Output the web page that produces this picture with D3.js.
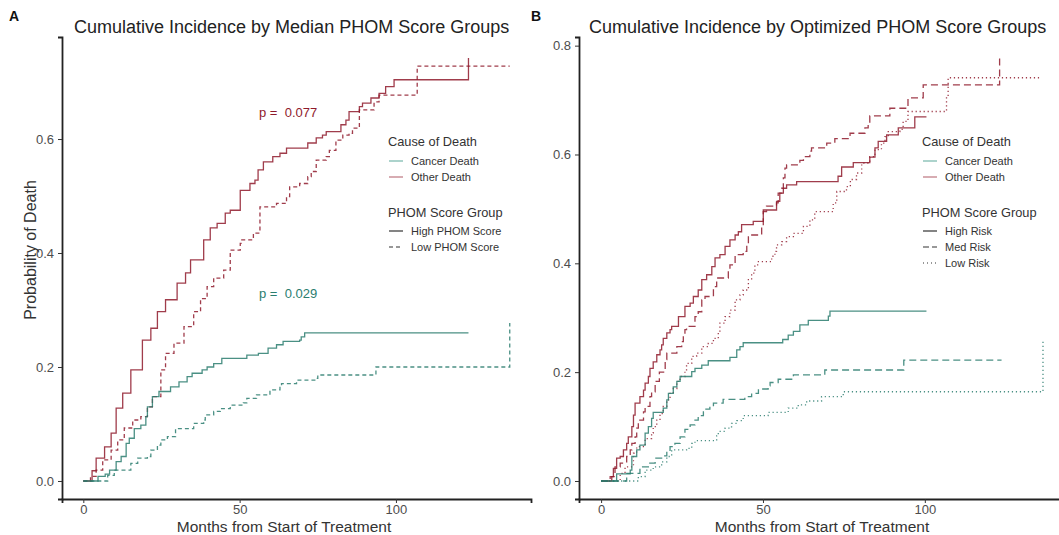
<!DOCTYPE html>
<html><head><meta charset="utf-8">
<script src="https://cdn.jsdelivr.net/npm/d3@7"></script>
<style>body{margin:0;background:#fff}svg{display:block;font-family:"Liberation Sans",Arial,sans-serif}</style>
</head><body>
<svg id="c" width="1059" height="535"></svg>
<script>
// ---------- data (months, cumulative incidence) ----------
const aHighOther=[[0,0],[2.8,0.018],[4.1,0.04],[6.8,0.06],[8.9,0.084],[10.5,0.128],[12.6,0.154],[15.2,0.195],[18.9,0.247],[21.6,0.268],[23.7,0.297],[26.3,0.318],[30,0.347],[32.7,0.365],[34.3,0.388],[38.5,0.423],[40.6,0.444],[42.8,0.452],[45.4,0.47],[47,0.475],[50.2,0.51],[53.3,0.522],[54.9,0.528],[55.9,0.546],[57.6,0.56],[60.6,0.569],[62.9,0.575],[65,0.584],[71.8,0.593],[74.5,0.602],[76.5,0.607],[77.7,0.613],[82.4,0.625],[84,0.633],[85,0.648],[88.3,0.657],[89.3,0.663],[92,0.672],[94.6,0.68],[96.7,0.692],[99.4,0.704],[123.2,0.742]];
const aLowOther=[[0,0],[2.3,0.008],[4.1,0.019],[6.2,0.037],[8.9,0.054],[11,0.072],[13.1,0.093],[15.8,0.107],[18.4,0.113],[20.5,0.13],[22.1,0.148],[24.8,0.195],[26.3,0.224],[29,0.242],[32.2,0.271],[35.3,0.297],[37.5,0.32],[39.6,0.341],[41.7,0.356],[44.9,0.37],[47,0.405],[50.2,0.417],[50.7,0.423],[54.4,0.435],[56.5,0.481],[61.8,0.487],[65,0.499],[66,0.516],[69.2,0.522],[71.8,0.534],[72.9,0.543],[74.5,0.563],[77.7,0.569],[78.7,0.58],[80.8,0.598],[83,0.607],[85,0.61],[86.1,0.619],[88.3,0.651],[93,0.665],[94.6,0.677],[106.8,0.728],[136.4,0.728]];
const aHighCancer=[[0,0],[4.7,0.008],[7,0.012],[8.4,0.019],[10.5,0.034],[12.1,0.043],[13.7,0.066],[14.7,0.075],[16.3,0.092],[18.4,0.098],[20,0.113],[20.5,0.13],[22.1,0.148],[24.2,0.157],[27.9,0.165],[30.6,0.174],[33.2,0.183],[34.8,0.189],[38,0.195],[39.6,0.2],[41.7,0.206],[44.3,0.215],[52.3,0.221],[56,0.224],[59.1,0.233],[61.8,0.239],[63.9,0.245],[69.2,0.247],[69.7,0.253],[70.8,0.26],[123.2,0.26]];
const aLowCancer=[[0,0],[7.8,0.01],[9.9,0.019],[15.2,0.031],[17.4,0.04],[20.5,0.043],[21.6,0.054],[23.7,0.063],[24.8,0.072],[26.9,0.078],[29.5,0.092],[35.3,0.101],[38.5,0.107],[39,0.116],[41.7,0.122],[43.8,0.127],[47,0.133],[51.2,0.137],[52.3,0.145],[55.4,0.151],[59.7,0.16],[62.9,0.168],[63.4,0.171],[68.2,0.177],[74.5,0.18],[75,0.186],[93.6,0.2],[136.4,0.277]];

const bHighOther=[[0,0],[3.3,0.008],[3.8,0.023],[4.8,0.042],[5.9,0.045],[6.9,0.057],[7.9,0.069],[8.4,0.081],[9.5,0.1],[10,0.121],[10.5,0.143],[12,0.155],[13.1,0.167],[13.6,0.18],[14.6,0.192],[15.1,0.207],[16.1,0.219],[17.2,0.232],[18.2,0.241],[18.7,0.25],[19.2,0.262],[20.3,0.272],[21.3,0.278],[21.8,0.284],[23.9,0.302],[25.9,0.321],[27.5,0.327],[28.5,0.339],[30,0.351],[31.1,0.37],[32.6,0.379],[34.2,0.394],[35.2,0.41],[36.7,0.416],[38.3,0.431],[39.8,0.443],[41.4,0.452],[42.4,0.458],[43.4,0.471],[47,0.477],[50.1,0.498],[54.2,0.514],[55.2,0.529],[56.3,0.538],[57.3,0.544],[60.4,0.55],[73.2,0.56],[74.3,0.577],[77.9,0.585],[83,0.595],[84.6,0.612],[85.6,0.624],[88.2,0.636],[91.8,0.649],[96.9,0.669],[100.5,0.669]];
const bMedOther=[[0,0],[2.8,0.008],[4.3,0.026],[5.9,0.033],[7.9,0.045],[9,0.057],[9.5,0.069],[10.5,0.081],[11,0.097],[11.5,0.112],[13.1,0.127],[13.6,0.137],[15.1,0.155],[15.6,0.164],[16.7,0.183],[18,0.2],[19.8,0.223],[20.3,0.235],[23.4,0.247],[24.9,0.256],[25.4,0.268],[25.9,0.278],[26.4,0.284],[29,0.302],[30,0.311],[31.1,0.333],[32.1,0.339],[34.7,0.357],[35.7,0.373],[39.3,0.388],[39.8,0.397],[41.4,0.416],[43.9,0.422],[45,0.434],[45.5,0.452],[49.6,0.468],[50.1,0.495],[51.1,0.505],[54.2,0.511],[54.7,0.529],[55.8,0.538],[56.3,0.557],[56.8,0.575],[57.3,0.581],[61.4,0.589],[62.5,0.596],[64.5,0.606],[65,0.612],[69.7,0.621],[72.2,0.629],[76.9,0.639],[81.5,0.649],[82.5,0.658],[83,0.671],[89.2,0.685],[94.8,0.704],[99.5,0.728],[123.1,0.777]];
const bLowOther=[[0,0],[5.9,0.014],[7.4,0.026],[10,0.051],[11,0.063],[13.6,0.078],[15.6,0.088],[16.1,0.1],[17.2,0.112],[18.2,0.124],[19.2,0.137],[20.3,0.149],[21.3,0.161],[22.3,0.17],[23.4,0.183],[24.4,0.192],[25.9,0.201],[26.4,0.216],[28,0.229],[29.5,0.235],[31.1,0.247],[33.1,0.253],[34.7,0.262],[36.2,0.272],[36.7,0.29],[38.3,0.302],[39.8,0.314],[41.4,0.333],[42.9,0.342],[43.9,0.351],[45.5,0.37],[46.5,0.382],[47.5,0.397],[48.6,0.403],[52.7,0.413],[53.7,0.422],[54.2,0.434],[55.8,0.44],[57.3,0.449],[59.4,0.455],[62.5,0.468],[64.5,0.48],[66,0.495],[71.7,0.511],[72.8,0.532],[75.8,0.541],[77,0.554],[78.9,0.566],[80.5,0.584],[83,0.596],[84.6,0.609],[86.6,0.621],[87.7,0.633],[88.7,0.642],[92.3,0.646],[93.3,0.661],[94.8,0.679],[106.7,0.707],[107.2,0.741],[135.5,0.741]];
const bHighCancer=[[0,0],[4.8,0.013],[9,0.02],[9.5,0.045],[11,0.057],[12,0.066],[13.6,0.088],[14.6,0.1],[15.6,0.115],[16.1,0.126],[19.2,0.134],[20.3,0.149],[20.8,0.161],[22.3,0.173],[23.4,0.183],[24.4,0.192],[28,0.201],[29,0.207],[31.1,0.213],[33.1,0.221],[39.8,0.227],[41.9,0.241],[42.9,0.247],[43.9,0.254],[56.1,0.26],[57.8,0.268],[59.4,0.275],[61.4,0.287],[64,0.295],[70.2,0.303],[70.7,0.312],[100.5,0.312]];
const bMedCancer=[[0,0],[7.9,0.014],[12,0.026],[14.6,0.033],[16.7,0.042],[18.7,0.046],[20.3,0.054],[21.3,0.063],[22.8,0.069],[24.4,0.081],[25.9,0.095],[27.5,0.103],[29,0.112],[30,0.12],[31.6,0.132],[33.6,0.137],[34.7,0.143],[37.7,0.15],[44.4,0.155],[46.5,0.161],[48.6,0.169],[51.6,0.175],[52.2,0.181],[54.7,0.187],[59.4,0.195],[69.1,0.204],[93.5,0.222],[123.7,0.222]];
const bLowCancer=[[0,0],[11.5,0.008],[13.6,0.02],[16.1,0.026],[18.7,0.035],[20.3,0.045],[21.8,0.057],[26.4,0.06],[28,0.069],[29,0.074],[35.7,0.083],[36.2,0.091],[38.3,0.097],[40.3,0.106],[41.9,0.111],[43.9,0.12],[51.6,0.126],[57.8,0.134],[60.9,0.14],[63.5,0.147],[68.1,0.155],[74.8,0.164],[136.5,0.259]];

const xTicks=[0,50,100];
const yTicksA=[0,0.2,0.4,0.6];
const yTicksB=[0,0.2,0.4,0.6,0.8];
const causeLabels=["Cancer Death","Other Death"];
const groupLabelsA=["High PHOM Score","Low PHOM Score"];
const groupLabelsB=["High Risk","Med Risk","Low Risk"];
const pValues=["0.077","0.029"];

// ---------- styles ----------
const RED="#8f1a2c", TEAL="#2a7d6f";
const RED_L="#c27f88", TEAL_L="#7fbcb1";
const svg=d3.select("#c");

function panel(o){
  const x=d3.scaleLinear().domain(o.xd).range(o.xr);
  const y=d3.scaleLinear().domain(o.yd).range([499,37]);
  const g=svg.append("g");
  const xa=g.append("g").attr("transform","translate(0,499)")
    .call(d3.axisBottom(x).tickValues(xTicks).tickSize(4).tickPadding(2));
  const ya=g.append("g").attr("transform",`translate(${o.xr[0]},0)`)
    .call(d3.axisLeft(y).tickValues(o.yTicks).tickSize(4).tickPadding(4).tickFormat(d3.format(".1f")));
  [xa,ya].forEach(a=>{
    a.select(".domain").attr("stroke","#222").attr("stroke-width",1.8);
    a.selectAll(".tick line").attr("stroke","#333").attr("stroke-width",1);
    a.selectAll(".tick text").attr("fill","#4d4d4d").style("font-size","13px").style("font-family","Liberation Sans, Arial, sans-serif");
  });
  const line=d3.line().x(d=>x(d[0])).y(d=>y(d[1])).curve(d3.curveStepAfter);
  o.series.forEach(s=>{
    g.append("path").datum(s.data).attr("d",line).attr("fill","none")
      .attr("stroke",s.color).attr("stroke-width",1.3).attr("stroke-opacity",0.85)
      .attr("stroke-dasharray",s.dash||null);
  });
  g.append("text").attr("x",o.titleX).attr("y",33).attr("fill","#222")
    .style("font-size","18px").text(o.title);
  g.append("text").attr("x",o.tagX).attr("y",21).attr("fill","#111")
    .style("font-size","14px").style("font-weight","bold").text(o.tag);
  g.append("text").attr("x",o.xTitleX).attr("y",532).attr("text-anchor","middle")
    .attr("fill","#333").style("font-size","15.5px").text("Months from Start of Treatment");
  const lx=o.legX;
  const L=g.append("g");
  L.append("text").attr("x",lx).attr("y",146).attr("fill","#333").style("font-size","12.8px").text("Cause of Death");
  causeLabels.forEach((t,i)=>{
    const yy=161+i*16;
    L.append("line").attr("x1",lx+1).attr("x2",lx+15).attr("y1",yy).attr("y2",yy)
      .attr("stroke",i===0?TEAL_L:RED_L).attr("stroke-width",1.3);
    L.append("text").attr("x",lx+23).attr("y",yy+4).attr("fill","#333").style("font-size","11px").text(t);
  });
  L.append("text").attr("x",lx).attr("y",217).attr("fill","#333").style("font-size","12.8px").text("PHOM Score Group");
  o.groups.forEach((t,i)=>{
    const yy=231+i*16;
    L.append("line").attr("x1",lx+1).attr("x2",lx+15).attr("y1",yy).attr("y2",yy)
      .attr("stroke","#333").attr("stroke-width",1.2).attr("stroke-dasharray",o.dashes[i]||null);
    L.append("text").attr("x",lx+23).attr("y",yy+4).attr("fill","#333").style("font-size","11px").text(t);
  });
  return {g,x,y};
}

const A=panel({xd:[-6.82,143.2],xr:[62,531],yd:[-0.0316,0.779],yTicks:yTicksA,
  title:"Cumulative Incidence by Median PHOM Score Groups",titleX:74,tag:"A",tagX:9,legX:388,xTitleX:284,
  groups:groupLabelsA,dashes:[null,"4,3"],
  series:[{data:aHighOther,color:RED},{data:aLowOther,color:RED,dash:"4,3"},
          {data:aHighCancer,color:TEAL},{data:aLowCancer,color:TEAL,dash:"4,3"}]});
A.g.append("text").attr("x",259).attr("y",117).attr("fill",RED).style("font-size","13px").attr("xml:space","preserve").text("p =  "+pValues[0]);
A.g.append("text").attr("x",259).attr("y",298).attr("fill",TEAL).style("font-size","13px").attr("xml:space","preserve").text("p =  "+pValues[1]);
A.g.append("text").attr("transform","translate(36,250) rotate(-90)").attr("text-anchor","middle")
  .attr("fill","#333").style("font-size","16px").text("Probability of Death");

panel({xd:[-6.825,143.3],xr:[579,1065],yd:[-0.0331,0.8159],yTicks:yTicksB,
  title:"Cumulative Incidence by Optimized PHOM Score Groups",titleX:589,tag:"B",tagX:531,legX:922,xTitleX:822,
  groups:groupLabelsB,dashes:[null,"6,3","1,3"],
  series:[{data:bHighOther,color:RED},{data:bMedOther,color:RED,dash:"7,4"},{data:bLowOther,color:RED,dash:"1.2,2.8"},
          {data:bHighCancer,color:TEAL},{data:bMedCancer,color:TEAL,dash:"7,4"},{data:bLowCancer,color:TEAL,dash:"1.2,2.8"}]});
</script>
</body></html>
